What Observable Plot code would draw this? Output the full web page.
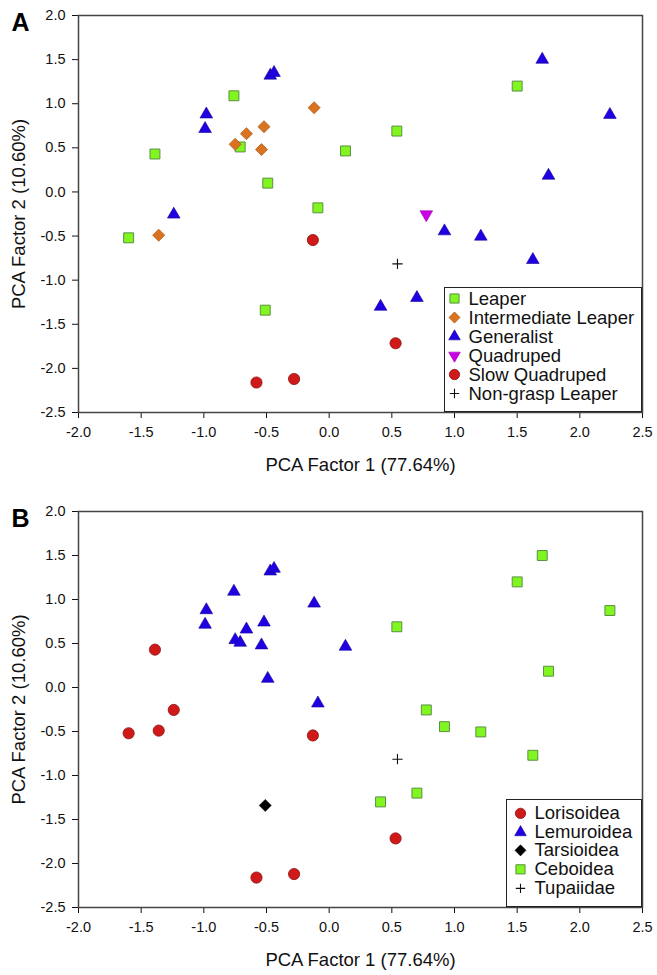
<!DOCTYPE html>
<html><head><meta charset="utf-8">
<script src="https://cdn.jsdelivr.net/npm/d3@7"></script>
<script src="https://cdn.jsdelivr.net/npm/@observablehq/plot@0.6"></script>
<style>
body{margin:0;background:#fff;font-family:"Liberation Sans",Arial,sans-serif;color:#111;}
#root{position:relative;width:657px;height:975px;overflow:hidden;}
.panel{position:relative;width:657px;}
.panel svg{display:block;}
.legend{position:absolute;border:1.5px solid #222;box-sizing:border-box;background:#fff;}
.row{display:flex;align-items:center;white-space:nowrap;overflow:visible;}
.row svg{flex:none;}
.row span{display:block;font-size:18.5px;overflow:visible;}
</style></head><body><div id="root"></div><script>
// ---- data ----
const pc1 = [-0.47,-0.44,-0.76,-0.98,-0.99,-0.12,-0.52,-0.66,-0.75,-0.71,-0.54,-1.39,-0.49,-0.09,-1.24,-1.36,-1.60,-0.13,-0.51,-0.58,-0.28,1.70,1.50,2.24,0.54,0.13,1.75,0.775,0.92,1.21,0.545,1.625,0.70,0.41,0.53];
const pc2 = [1.32,1.35,1.09,0.88,0.715,0.955,0.74,0.66,0.54,0.51,0.48,0.43,0.10,-0.18,-0.255,-0.49,-0.52,-0.545,-1.34,-2.16,-2.12,1.50,1.20,0.875,0.69,0.465,0.185,-0.255,-0.445,-0.505,-0.815,-0.77,-1.20,-1.30,-1.715];
const locomotion = ["Generalist","Generalist","Leaper","Generalist","Generalist","Intermediate Leaper","Intermediate Leaper","Intermediate Leaper","Intermediate Leaper","Leaper","Intermediate Leaper","Leaper","Leaper","Leaper","Generalist","Intermediate Leaper","Leaper","Slow Quadruped","Leaper","Slow Quadruped","Slow Quadruped","Generalist","Leaper","Generalist","Leaper","Leaper","Generalist","Quadruped","Generalist","Generalist","Non-grasp Leaper","Generalist","Generalist","Generalist","Slow Quadruped"];
const family = ["Lemuroidea","Lemuroidea","Lemuroidea","Lemuroidea","Lemuroidea","Lemuroidea","Lemuroidea","Lemuroidea","Lemuroidea","Lemuroidea","Lemuroidea","Lorisoidea","Lemuroidea","Lemuroidea","Lorisoidea","Lorisoidea","Lorisoidea","Lorisoidea","Tarsioidea","Lorisoidea","Lorisoidea","Ceboidea","Ceboidea","Ceboidea","Ceboidea","Lemuroidea","Ceboidea","Ceboidea","Ceboidea","Ceboidea","Tupaiidae","Ceboidea","Ceboidea","Ceboidea","Lorisoidea"];
const locomotionGroups = ["Leaper","Intermediate Leaper","Generalist","Quadruped","Slow Quadruped","Non-grasp Leaper"];
const familyGroups = ["Lorisoidea","Lemuroidea","Tarsioidea","Ceboidea","Tupaiidae"];
const xTicks = [-2.0,-1.5,-1.0,-0.5,0.0,0.5,1.0,1.5,2.0,2.5];
const yTicks = [-2.5,-2.0,-1.5,-1.0,-0.5,0.0,0.5,1.0,1.5,2.0];
const xTitle = "PCA Factor 1 (77.64%)";
const yTitle = "PCA Factor 2 (10.60%)";

// ---- styles ----
const triangleDown = {draw(context, size){
  const y = -Math.sqrt(size / (Math.sqrt(3) * 3));
  context.moveTo(0, -y * 2);
  context.lineTo(-Math.sqrt(3) * y, y);
  context.lineTo(Math.sqrt(3) * y, y);
  context.closePath();
}};
const S = {
  square:   {symbol:"square",   r:5.6, fill:"#80f51f", stroke:"#5b8f45", sw:1},
  diamond:  {symbol:"diamond2", r:5.4, fill:"#d9731f", stroke:"#b05a18", sw:0.8},
  triangle: {symbol:"triangle", r:4.7, fill:"#1f00e0", stroke:"#16009a", sw:0.6},
  tdown:    {symbol:triangleDown, r:4.7, fill:"#cc00e6", stroke:"#9a00b0", sw:0.6},
  circle:   {symbol:"circle",   r:5.6, fill:"#d01a1a", stroke:"#8b1212", sw:0.8},
  plus:     {symbol:"plus",     r:3.4, fill:"none", stroke:"#111", sw:1.1},
  bdiamond: {symbol:"diamond2", r:5.4, fill:"#000", stroke:"#000", sw:0.6}
};
const styleA = {"Leaper":S.square,"Intermediate Leaper":S.diamond,"Generalist":S.triangle,"Quadruped":S.tdown,"Slow Quadruped":S.circle,"Non-grasp Leaper":S.plus};
const styleB = {"Lorisoidea":S.circle,"Lemuroidea":S.triangle,"Tarsioidea":S.bdiamond,"Ceboidea":S.square,"Tupaiidae":S.plus};

function makePanel(letter, key, groups, styles, height, marginTop, marginBottom, legend) {
  const data = pc1.map((x, i) => ({x, y: pc2[i], g: key[i]}));
  const marks = [];
  for (const g of groups) {
    const s = styles[g];
    marks.push(Plot.dot(data.filter(d => d.g === g), {x:"x", y:"y", symbol:s.symbol, r:s.r, fill:s.fill, stroke:s.stroke, strokeWidth:s.sw}));
  }
  marks.push(Plot.frame({stroke:"#444", strokeWidth:1.5}));
  marks.push(Plot.text([xTitle], {frameAnchor:"bottom", textAnchor:"middle", lineAnchor:"middle", dy:53, fontSize:18.5, fill:"#111"}));
  marks.push(Plot.text([yTitle], {frameAnchor:"left", textAnchor:"middle", lineAnchor:"middle", dx:-59, rotate:-90, fontSize:18.5, fill:"#111"}));
  marks.push(Plot.text([letter], {frameAnchor:"top-left", textAnchor:"middle", lineAnchor:"middle", dx:-58, dy:7, fontSize:25, fontWeight:"bold", fill:"#000"}));
  const plot = Plot.plot({
    width:657, height, marginLeft:78, marginRight:15, marginTop, marginBottom,
    x:{domain:[-2,2.5], ticks:xTicks, tickFormat:d => d.toFixed(1), label:null, tickSize:6, tickPadding:8},
    y:{domain:[-2.5,2], ticks:yTicks, tickFormat:d => d.toFixed(1), label:null, tickSize:6, tickPadding:7},
    style:{fontSize:"14.5px", fontFamily:"'Liberation Sans', Arial, sans-serif", color:"#111", background:"#fff", overflow:"visible"},
    marks
  });
  const div = document.createElement("div");
  div.className = "panel";
  div.style.height = height + "px";
  div.appendChild(plot);
  // legend box inside the plot area
  const box = document.createElement("div");
  box.className = "legend";
  Object.assign(box.style, {left:legend.left+"px", top:legend.top+"px", width:legend.w+"px", height:legend.h+"px", paddingTop:legend.pad+"px"});
  for (const g of groups) {
    const s = styles[g];
    const row = document.createElement("div");
    row.className = "row";
    row.style.height = legend.rowH + "px";
    const sv = d3.create("svg").attr("width", legend.textX).attr("height", legend.rowH);
    const sym = typeof s.symbol === "string" ? ({square:d3.symbolSquare, diamond2:d3.symbolDiamond2, triangle:d3.symbolTriangle, circle:d3.symbolCircle, plus:d3.symbolPlus})[s.symbol] : s.symbol;
    sv.append("path").attr("transform", `translate(${legend.symX},${legend.rowH/2})`)
      .attr("d", d3.symbol(sym, Math.PI * s.r * s.r * 0.85)())
      .attr("fill", s.fill).attr("stroke", s.stroke).attr("stroke-width", s.sw);
    row.appendChild(sv.node());
    const t = document.createElement("span");
    t.textContent = g;
    t.style.height = legend.rowH + "px";
    t.style.lineHeight = legend.rowH + "px";
    row.appendChild(t);
    box.appendChild(row);
  }
  div.appendChild(box);
  return div;
}

const root = document.getElementById("root");
root.appendChild(makePanel("A", locomotion, locomotionGroups, styleA, 485, 15, 73,
  {left:444, top:287, w:198, h:125, pad:0.5, rowH:19, symX:9.5, textX:23.5}));
root.appendChild(makePanel("B", family, familyGroups, styleB, 490, 26, 68,
  {left:506, top:314, w:136, h:108, pad:4, rowH:18.7, symX:13.5, textX:27.5}));
</script></body></html>
